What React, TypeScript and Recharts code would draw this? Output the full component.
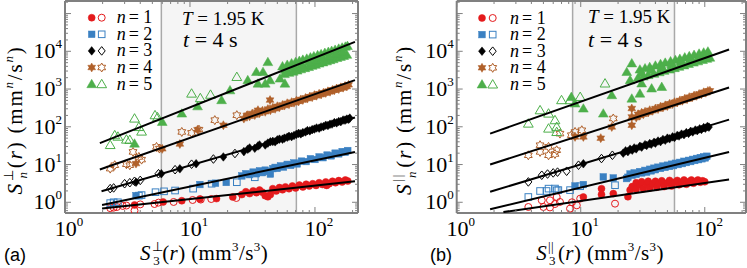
import { ScatterChart, Scatter, XAxis, YAxis, ReferenceArea, ReferenceLine } from 'recharts';

type P = [number, number];

const SERIF = 'Liberation Serif, Times New Roman, serif';
const SANS = 'Liberation Sans, Arial, sans-serif';
const GRAY = '#808080';

const COLORS = ['#e41a1c', '#3a80c2', '#000000', '#b0602a', '#4daf4a'];
const KINDS = ['circle', 'square', 'diamond', 'hex', 'triangle'];
const ORDERS = [1, 2, 3, 4, 5];

const xTicks = [1, 2, 3, 4, 5, 6, 7, 8, 9, 10, 20, 30, 40, 50, 60, 70, 80, 90, 100, 200];
const yTicks = [
  0.6, 0.7, 0.8, 0.9, 1, 2, 3, 4, 5, 6, 7, 8, 9, 10, 20, 30, 40, 50, 60, 70, 80, 90,
  100, 200, 300, 400, 500, 600, 700, 800, 900, 1000, 2000, 3000, 4000, 5000, 6000, 7000, 8000, 9000,
  10000, 20000, 30000, 40000, 50000, 60000, 70000, 80000, 90000, 100000, 200000,
];
const yLabels = [1, 10, 100, 1000, 10000];
const xLabels = [1, 10, 100];

// ---------- panel (a): perpendicular ----------
const a1Open: P[] = [[2.3, 0.7], [2.45, 0.72], [2.6, 0.75], [2.9, 0.8], [3.1, 0.82], [3.6, 0.6], [4.0, 0.88], [5.2, 0.9], [5.6, 0.98], [7.4, 1.02], [10.5, 1.15], [12.2, 1.18], [14.8, 1.22], [23.5, 1.3]];
const a1Fill: P[] = [[3.6, 0.85], [6.1, 1.02], [8.6, 1.1], [12, 1.22], [16.3, 1.25], [22, 1.38],
  [26, 1.6], [28, 1.9], [30, 1.7], [32, 2.0], [34, 1.8], [36, 2.1], [38, 1.85], [40, 1.5], [42, 1.4], [44, 1.6], [46, 2.3], [49, 2.0], [52, 2.45], [55, 2.15], [58, 2.55], [62, 2.3], [66, 2.7], [70, 2.4], [75, 2.85], [80, 2.55], [85, 3.0], [90, 2.7], [96, 3.1], [102, 2.8], [108, 3.3], [115, 2.95], [122, 3.45], [124, 2.8], [130, 3.1], [138, 3.6], [146, 3.3], [155, 3.75], [165, 3.45], [175, 3.9], [183, 3.65]];
const a2Open: P[] = [[2.3, 0.95], [2.45, 1.0], [2.65, 1.0], [3.9, 1.5], [4.1, 1.55], [5.3, 1.85], [6.2, 1.95], [7.6, 2.05], [10.6, 2.3], [14.9, 3.1], [23.7, 3.4], [33, 4.6]];
const a2Fill: P[] = [[3.7, 1.5], [12, 2.95], [16, 3.2], [19.5, 3.35],
  [26, 5.0], [28, 5.7], [30, 5.4], [32, 6.3], [34, 5.7], [36, 6.8], [38, 6.1], [40, 7.1], [42, 6.5], [44, 5.6], [46, 7.8], [48, 8.4], [50, 7.9], [53, 9.2], [56, 8.6], [60, 10.1], [64, 9.5], [68, 11.0], [72, 10.4], [78, 12.3], [85, 12.0], [92, 14.2], [100, 13.6], [108, 15.9], [116, 15.2], [125, 17.8], [135, 17.0], [145, 20.0], [155, 19.2], [165, 22.0], [175, 21.2], [183, 23.5]];
const a3Open: P[] = [[2.3, 2.3], [2.45, 2.4], [3.0, 3.1], [3.3, 3.3], [3.6, 3.6], [4.0, 3.8], [5.6, 5.7], [7.6, 7.3], [10.3, 10.2], [15.4, 14], [22.9, 19.6]];
const a3Fill: P[] = [[3.7, 3.4], [5.9, 5.7], [8.3, 7.7], [11.2, 10.5], [18.5, 15.9],
  [27, 22], [29, 25.5], [30, 27.5], [33, 27], [35, 31], [36, 33], [40, 33], [42, 37], [44, 40], [46, 41], [48, 40], [50, 45], [52, 47], [55, 47], [57, 50], [60, 53], [62, 56], [65, 55], [68, 59], [71, 63], [74, 67], [77, 65], [80, 70], [84, 73], [87, 79], [91, 78], [95, 84], [99, 87], [103, 93], [108, 92], [112, 99], [117, 101], [122, 110], [127, 108], [132, 117], [137, 118], [143, 129], [149, 127], [155, 138], [161, 137], [168, 151], [174, 150], [180, 160], [186, 158], [190, 170]];
const a4Open: P[] = [[2.3, 7.8], [2.5, 9.6], [3.1, 10.2], [3.3, 9.6], [3.5, 21.6], [3.9, 15.9], [4.1, 13.5], [5.4, 29.3], [5.7, 26.5], [8.6, 73], [10.3, 69], [11.8, 84], [15.8, 150], [23.7, 203]];
const a4Fill: P[] = [[3.7, 10.6], [6.0, 26], [8.3, 35], [11.5, 84], [18.5, 110], [29, 203], [35, 275], [43.7, 509],
  [27, 165], [28.5, 200], [30, 190], [31.5, 225], [33, 205], [34.5, 245], [36, 230], [38, 265], [40, 250], [42, 295], [44, 275], [46, 320], [48, 300], [50, 350], [52, 330], [55, 380], [57, 365], [60, 420], [62, 395], [65, 450], [68, 435], [71, 490], [74, 470], [77, 530], [80, 515], [84, 580], [87, 560], [91, 630], [95, 610], [99, 690], [103, 665], [108, 750], [112, 720], [117, 800], [122, 790], [127, 870], [132, 850], [138, 950], [143, 930], [149, 1030], [155, 1000], [161, 1110], [168, 1090], [174, 1200], [180, 1170], [186, 1290]];
const a5Open: P[] = [[2.3, 33], [2.5, 60], [2.65, 55], [3.1, 46], [3.3, 45], [3.6, 166], [3.9, 99], [4.1, 75], [5.25, 203], [5.5, 180], [10.3, 760], [12.1, 577], [14.6, 710], [23.7, 2100]];
const a5Fill: P[] = [[3.6, 36], [6.0, 135], [8.6, 225], [11.5, 350], [17.9, 509], [20.9, 930], [29, 1720], [34, 2840], [38.4, 2840], [42, 5200], [35, 1400], [43.7, 1720], [52.5, 1900], [40, 1400], [57.5, 1400],
  [55, 4000], [60, 4400], [65, 4800], [70, 5200], [75, 5600], [80, 6000], [86, 6400], [92, 6900], [98, 7400], [105, 7900], [112, 8400], [120, 9100], [128, 9700], [136, 10300], [145, 11000], [155, 11800], [165, 12600], [175, 13300], [182, 13900],
  [57, 2500], [62, 2700], [67, 2900], [72, 3100], [77, 3350], [83, 3600], [89, 3850], [95, 4150], [101, 4400], [108, 4750], [116, 5100], [124, 5450], [132, 5850], [140, 6200], [150, 6700], [160, 7150], [170, 7600], [180, 8100],
  [58, 3250], [68, 3850], [78, 4450], [90, 5200], [102, 5900], [115, 6700], [130, 7600], [148, 8700], [168, 9900]];
const aFits: P[][] = [
  [[1.98, 0.68], [209, 3.6]],
  [[1.98, 0.85], [209, 21.6]],
  [[1.96, 1.96], [209, 176]],
  [[1.9, 7.4], [209, 1720]],
  [[1.9, 37], [209, 17800]],
];

// ---------- panel (b): parallel ----------
const b1Open: P[] = [[3.78, 0.75], [4.85, 1.13], [5.0, 0.75], [5.65, 0.73], [5.65, 1.13], [6.4, 1.38], [6.8, 1.02], [6.2, 0.9], [8.2, 0.68], [8.5, 1.0], [9.3, 0.83], [9.9, 1.25], [18.9, 0.92]];
const b1Fill: P[] = [[10.5, 1.38], [14.7, 2.3], [14.7, 1.6], [18.3, 1.7], [24, 1.4], [25, 2.1], [26, 2.6],
  [28, 3.3], [28, 2.2], [30, 2.9], [31, 3.5], [32, 2.3], [34, 3.0], [35, 3.6], [36, 2.4], [38, 3.1], [40, 3.6], [41, 2.5], [43, 3.2], [45, 3.7], [47, 2.6], [50, 3.3], [52, 3.8], [54, 2.7], [57, 3.4], [60, 3.8], [62, 2.9], [65, 3.4], [68, 3.9], [71, 3.0], [74, 3.5], [78, 3.9], [81, 3.2], [85, 3.6], [88, 3.9], [92, 3.4], [96, 3.7], [100, 3.5]];
const b2Open: P[] = [[3.78, 1.38], [4.7, 1.99], [5.3, 1.99], [5.5, 2.3], [6.2, 2.31], [6.6, 2.1], [8.2, 2.1], [9.9, 2.66], [18.9, 2.83], [6.4, 2.08]];
const b2Fill: P[] = [[9.0, 2.7], [10.5, 2.95], [15.2, 4.7], [18.3, 4.4], [23.4, 4.25],
  [24, 4.6], [25, 5.6], [26, 5.2], [27, 6.0], [28, 5.5], [30, 6.5], [31, 6.0], [33, 7.0], [34, 6.3], [36, 7.5], [37, 6.8], [39, 8.0], [40, 7.3], [42, 8.5], [44, 7.9], [46, 9.1], [48, 8.4], [50, 9.6], [52, 8.9], [54, 10.2], [56, 9.4], [58, 10.8], [61, 10.0], [63, 11.4], [66, 10.6], [68, 12.2], [71, 11.3], [74, 12.9], [77, 12.0], [80, 13.7], [83, 12.8], [86, 14.5], [89, 13.5], [92, 15.3], [95, 14.2], [98, 16.0], [101, 15.0], [104, 16.6]];
const b3Open: P[] = [[3.78, 3.46], [4.85, 5.2], [5.4, 5.6], [6.0, 6.0], [6.5, 6.3], [7.7, 6.64], [9.6, 9.6], [14.7, 14.4], [18, 17.6]];
const b3Fill: P[] = [[10.5, 10.5],
  [22, 20], [23, 23], [24, 22], [25, 25.5], [26, 24], [27, 27.5], [28, 26], [30, 30.5], [31, 29], [33, 33.5], [34, 32], [36, 36], [37, 34.5], [39, 39], [40, 37], [42, 42], [44, 40.5], [46, 46], [48, 44], [50, 50], [52, 48], [55, 54], [57, 52], [60, 59], [62, 57], [65, 64], [68, 62], [71, 70], [74, 67], [77, 76], [80, 73], [84, 82], [87, 79], [91, 88], [94, 85], [98, 95], [101, 92], [105, 102], [108, 98]];
const b4Open: P[] = [[3.78, 17.6], [4.7, 32.5], [4.7, 21.6], [5.5, 29.4], [5.5, 17.6], [6.4, 23.9], [6.2, 19], [6.8, 66], [8.4, 60], [9.0, 73], [10.2, 81], [18.3, 166]];
const b4Fill: P[] = [[9.0, 54], [10.5, 54], [14.5, 50], [17.8, 99], [25.8, 305], [25.8, 183], [25.8, 110],
  [28, 175], [29, 215], [30, 200], [31, 235], [32, 215], [33, 250], [35, 240], [36, 275], [38, 265], [40, 305], [42, 295], [44, 340], [46, 325], [48, 370], [50, 355], [52, 405], [55, 400], [57, 450], [60, 440], [63, 500], [66, 490], [69, 555], [72, 540], [75, 610], [79, 600], [82, 670], [86, 660], [90, 740], [94, 730], [98, 820], [102, 800], [106, 890], [110, 900]];
const b5Open: P[] = [[3.78, 122], [4.7, 275], [5.5, 225], [5.5, 90], [6.2, 150], [6.4, 100], [6.4, 73], [7.0, 509], [8.2, 509], [9.9, 620], [15.7, 1410]];
const b5Fill: P[] = [[8.4, 620], [9.0, 415], [10.5, 305], [15.2, 225], [17.8, 690], [25, 1720], [25.8, 4800], [25.8, 560], [31, 1410], [37.3, 1040], [45, 1140], [30, 760], [23.5, 2840],
  [30, 3300], [33, 3550], [36, 3850], [40, 4200], [44, 4600], [48, 5000], [53, 5450], [58, 5900], [63, 6350], [69, 6900], [75, 7450], [82, 8050], [90, 8700], [98, 9300], [106, 9900],
  [29, 2000], [32, 2150], [35, 2350], [39, 2550], [43, 2800], [47, 3050], [52, 3300], [57, 3600], [62, 3900], [68, 4250], [74, 4650], [81, 5050], [88, 5450], [96, 5900], [104, 6350], [110, 6800],
  [31, 2700], [37, 3200], [45, 3850], [54, 4550], [64, 5350], [76, 6200], [90, 7300], [104, 8400]];
const bFits: P[][] = [
  [[2.38, 0.55], [157, 4.0]],
  [[1.86, 0.65], [157, 21.6]],
  [[1.86, 1.9], [157, 155]],
  [[1.86, 10], [157, 1100]],
  [[1.86, 66], [157, 11200]],
];

const aOpen = [a1Open, a2Open, a3Open, a4Open, a5Open];
const aFill = [a1Fill, a2Fill, a3Fill, a4Fill, a5Fill];
const bOpen = [b1Open, b2Open, b3Open, b4Open, b5Open];
const bFill = [b1Fill, b2Fill, b3Fill, b4Fill, b5Fill];

const toRows = (pts: P[]) => pts.map(([x, y]) => ({ x, y }));

function Marker({ kind, color, filled, cx, cy }: any) {
  const st = filled
    ? { fill: color, stroke: color, strokeWidth: 0.5 }
    : { fill: 'none', stroke: color, strokeWidth: 1 };
  if (kind === 'circle') return <circle cx={cx} cy={cy} r={3.5} {...st} />;
  if (kind === 'square') return <rect x={cx - 3.3} y={cy - 3.3} width={6.6} height={6.6} {...st} />;
  if (kind === 'diamond')
    return <path d={`M${cx},${cy - 4.3}L${cx + 3.5},${cy}L${cx},${cy + 4.3}L${cx - 3.5},${cy}Z`} {...st} />;
  if (kind === 'triangle')
    return <path d={`M${cx},${cy - 4.8}L${cx + 4.9},${cy + 3.6}L${cx - 4.9},${cy + 3.6}Z`} {...st} />;
  // six-pointed star
  const R = 4.5;
  let d = '';
  for (let i = 0; i < 12; i++) {
    const a = ((-90 + i * 30) * Math.PI) / 180;
    const r = i % 2 === 0 ? R : R / Math.sqrt(3);
    d += `${i === 0 ? 'M' : 'L'}${(cx + r * Math.cos(a)).toFixed(2)},${(cy + r * Math.sin(a)).toFixed(2)}`;
  }
  return <path d={d + 'Z'} {...st} />;
}

const isMajor = (v: number) => Math.abs(Math.log10(v) - Math.round(Math.log10(v))) < 1e-6;

function makeTick(side: 'bottom' | 'top' | 'left' | 'right', labels: number[]) {
  return (props: any) => {
    const { x, y, payload } = props;
    const v = payload.value;
    const len = isMajor(v) ? 6 : 3;
    const exp = Math.round(Math.log10(v));
    const show = labels.some((l) => Math.abs(l - v) < 1e-9);
    let line;
    if (side === 'bottom') line = <line x1={x} y1={y} x2={x} y2={y - len} stroke={GRAY} strokeWidth={1} />;
    else if (side === 'top') line = <line x1={x} y1={y} x2={x} y2={y + len} stroke={GRAY} strokeWidth={1} />;
    else if (side === 'left') line = <line x1={x} y1={y} x2={x + len} y2={y} stroke={GRAY} strokeWidth={1} />;
    else line = <line x1={x} y1={y} x2={x - len} y2={y} stroke={GRAY} strokeWidth={1} />;
    return (
      <g>
        {line}
        {show && side === 'bottom' && (
          <text x={x + 4} y={y + 23} textAnchor="middle" fontFamily={SERIF} fontSize={22} fill="#000">
            10<tspan fontSize={13} dy={-10}>{exp}</tspan>
          </text>
        )}
        {show && side === 'left' && (
          <text x={x - 3} y={y + 7} textAnchor="end" fontFamily={SERIF} fontSize={22} fill="#000">
            10<tspan fontSize={13} dy={-10}>{exp}</tspan>
          </text>
        )}
      </g>
    );
  };
}

function Panel({ left, width, plotLeft, plotRight, xMax, shade, open, fill, fits }: any) {
  // every axis is 1px thick, so the margins are reduced by one
  const margin = { top: 0, right: width - plotRight - 1, bottom: 268 - 213 - 1, left: plotLeft - 1 };
  const axisLine = { stroke: GRAY, strokeWidth: 2 };
  return (
    <div style={{ position: 'absolute', left, top: 0 }}>
      <ScatterChart width={width} height={268} margin={margin}>
        <XAxis dataKey="x" type="number" scale="log" domain={[1, xMax]} allowDataOverflow ticks={xTicks} interval={0}
          tickSize={0} tickMargin={0} height={1} axisLine={axisLine} tickLine={false} tick={makeTick('bottom', xLabels)} />
        <XAxis xAxisId="top" orientation="top" dataKey="x" type="number" scale="log" domain={[1, xMax]} allowDataOverflow ticks={xTicks} interval={0}
          tickSize={0} tickMargin={0} height={1} axisLine={axisLine} tickLine={false} tick={makeTick('top', [])} />
        <YAxis dataKey="y" type="number" scale="log" domain={[0.52, 215000]} allowDataOverflow ticks={yTicks} interval={0}
          tickSize={0} tickMargin={0} width={1} axisLine={axisLine} tickLine={false} tick={makeTick('left', yLabels)} />
        <YAxis yAxisId="right" orientation="right" dataKey="y" type="number" scale="log" domain={[0.52, 215000]} allowDataOverflow ticks={yTicks} interval={0}
          tickSize={0} tickMargin={0} width={1} axisLine={axisLine} tickLine={false} tick={makeTick('right', [])} />
        <ReferenceArea x1={shade[0]} x2={shade[1]} fill="#f5f5f5" fillOpacity={1} stroke="none" />
        <ReferenceLine x={shade[0]} stroke="#a9a9a9" strokeWidth={1.5} />
        <ReferenceLine x={shade[1]} stroke="#a9a9a9" strokeWidth={1.5} />
        {ORDERS.map((n, i) => (
          <Scatter key={`o${n}`} data={toRows(open[i])} isAnimationActive={false}
            shape={(p: any) => <Marker kind={KINDS[i]} color={COLORS[i]} filled={false} cx={p.cx} cy={p.cy} />} />
        ))}
        {ORDERS.map((n, i) => (
          <Scatter key={`f${n}`} data={toRows(fill[i])} isAnimationActive={false}
            shape={(p: any) => <Marker kind={KINDS[i]} color={COLORS[i]} filled cx={p.cx} cy={p.cy} />} />
        ))}
        {ORDERS.map((n, i) => (
          <Scatter key={`l${n}`} data={toRows(fits[i])} isAnimationActive={false}
            line={{ stroke: '#000', strokeWidth: 2 }} shape={() => <g />} />
        ))}
      </ScatterChart>
    </div>
  );
}

function AxisTitle({ x, y, rotate, mark, markW, sub, size, spacing }: any) {
  const it = sub === 'n' ? 'italic' : 'normal';
  return (
    <text transform={`translate(${x},${y}) rotate(${rotate})`} textAnchor="middle" fontFamily={SERIF}
      fontSize={size} letterSpacing={spacing} fill="#000">
      <tspan fontStyle="italic">S</tspan>
      <tspan fontSize={13} dy={-9} dx={1}>{mark}</tspan>
      <tspan fontSize={13} dx={-markW} dy={14} fontStyle={it}>{sub}</tspan>
      <tspan dy={-5} dx={2}>(</tspan>
      <tspan fontStyle="italic">r</tspan>
      <tspan>) (mm</tspan>
      <tspan fontSize={13} dy={-9} fontStyle={it}>{sub}</tspan>
      <tspan dy={9}>/s</tspan>
      <tspan fontSize={13} dy={-9} fontStyle={it}>{sub}</tspan>
      <tspan dy={9}>)</tspan>
    </text>
  );
}

function LegendBlock({ fx, ox, tx, y0 }: any) {
  return (
    <g>
      {ORDERS.map((n, i) => {
        const cy = y0 + i * 16.6;
        return (
          <g key={n}>
            <Marker kind={KINDS[i]} color={COLORS[i]} filled cx={fx} cy={cy} />
            <Marker kind={KINDS[i]} color={COLORS[i]} filled={false} cx={ox} cy={cy} />
            <text x={tx} y={cy + 5.5} fontFamily={SERIF} fontSize={18} fontStyle="italic" fill="#000">n</text>
            <text x={tx + 12} y={cy + 5.5} fontFamily={SERIF} fontSize={18} fill="#000">{'= ' + n}</text>
          </g>
        );
      })}
    </g>
  );
}

export default function App() {
  return (
    <div style={{ position: 'absolute', left: 0, top: 0, width: 747, height: 268, background: '#fff' }}>
      <Panel left={0} width={375} plotLeft={65} plotRight={358} xMax={221} shade={[5.9, 71]} open={aOpen} fill={aFill} fits={aFits} />
      <Panel left={375} width={372} plotLeft={81.7} plotRight={371} xMax={215} shade={[8.6, 57]} open={bOpen} fill={bFill} fits={bFits} />
      <svg width={747} height={268} style={{ position: 'absolute', left: 0, top: 0, pointerEvents: 'none' }}>
        <LegendBlock fx={91.7} ox={101.7} tx={116.7} y0={17.7} />
        <LegendBlock fx={482} ox={492.7} tx={510} y0={18} />
        <text x={182} y={25} fontFamily={SERIF} fontSize={19} fill="#000"><tspan fontStyle="italic">T</tspan>{' = 1.95 K'}</text>
        <text x={183} y={47} fontFamily={SERIF} fontSize={22} fill="#000"><tspan fontStyle="italic">t</tspan>{' = 4 s'}</text>
        <text x={588} y={23} fontFamily={SERIF} fontSize={19} fill="#000"><tspan fontStyle="italic">T</tspan>{' = 1.95 K'}</text>
        <text x={588} y={47} fontFamily={SERIF} fontSize={22} fill="#000"><tspan fontStyle="italic">t</tspan>{' = 4 s'}</text>
        <AxisTitle x={204} y={260} rotate={0} mark={'\u22A5'} markW={10} sub="3" size={21} spacing={0.4} />
        <AxisTitle x={600} y={260} rotate={0} mark={'||'} markW={5} sub="3" size={21} spacing={0.4} />
        <AxisTitle x={22} y={120} rotate={-90} mark={'\u22A5'} markW={10} sub="n" size={21} spacing={1.8} />
        <AxisTitle x={411} y={120} rotate={-90} mark={'||'} markW={5} sub="n" size={21} spacing={1.8} />
        <text x={4} y={261} fontFamily={SANS} fontSize={18} fill="#000">(a)</text>
        <text x={430} y={261} fontFamily={SANS} fontSize={18} fill="#000">(b)</text>
      </svg>
    </div>
  );
}
